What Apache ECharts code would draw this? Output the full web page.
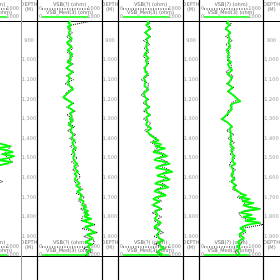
<!DOCTYPE html>
<html><head><meta charset="utf-8">
<script src="https://cdn.jsdelivr.net/npm/echarts@6/dist/echarts.min.js"></script>
<style>html,body{margin:0;padding:0;background:#fff}#c{width:280px;height:280px}</style>
</head><body><div id="c"></div>
<script>
// ---- data ----
const depths = [800,810,820,830,840,850,860,870,880,890,900,910,920,930,940,950,960,970,980,990,
1000,1010,1020,1030,1040,1050,1060,1070,1080,1090,1100,1110,1120,1130,1140,1150,1160,1170,1180,1190,
1200,1210,1220,1230,1240,1250,1260,1270,1280,1290,1300,1310,1320,1330,1340,1350,1360,1370,1380,1390,
1400,1410,1420,1430,1440,1450,1460,1470,1480,1490,1500,1510,1520,1530,1540,1550,1560,1570,1580,1590,
1600,1610,1620,1630,1640,1650,1660,1670,1680,1690,1700,1710,1720,1730,1740,1750,1760,1770,1780,1790,
1800,1810,1820,1830,1840,1850,1860,1870,1880,1890,1900,1910,1920,1930,1940,1950,1960,1970,1980,1990,2000];
const rawDepths = [800,820,840,860,880,900,920,940,960,980,1000,1020,1040,1060,1080,1100,1120,1140,1160,1180,
1200,1220,1240,1260,1280,1300,1320,1340,1360,1380,1400,1420,1440,1460,1480,1500,1520,1540,1560,1580,
1600,1620,1640,1660,1680,1700,1720,1740,1760,1780,1800,1820,1840,1860,1880,1900,1920,1940,1960,1980,2000];

const t0Med = [500,520,490,510,530,500,480,505,520,495,510,490,500,525,505,480,500,515,490,505,
510,495,520,500,485,505,530,510,490,500,520,505,480,500,515,535,510,490,505,520,
500,485,510,530,505,490,515,540,520,500,525,545,520,505,530,550,525,510,540,560,
540,570,600,720,840,610,780,880,700,900,800,640,860,770,610,570,550,590,540,570,
560,580,545,600,570,550,585,560,540,575,590,560,545,570,600,580,560,590,610,580,
600,590,570,610,620,590,580,600,630,610,590,600,620,600,580,610,630,600,590,610,600];
const t1Med = [520,480,530,470,515,545,490,465,505,540,500,460,495,535,515,470,500,545,510,480,
520,465,530,500,455,495,550,520,470,510,540,475,450,500,530,560,500,470,440,400,
460,505,545,510,475,530,565,510,480,540,500,555,525,480,545,570,515,495,555,580,
535,585,540,510,570,605,545,520,580,610,555,530,590,625,570,545,600,635,575,610,
640,580,625,660,600,640,680,615,655,695,705,650,720,745,690,760,710,790,720,800,
730,840,700,800,870,740,720,840,900,770,760,860,800,740,850,780,760,830,770,750,780];
const t2Med = [445,485,430,460,500,455,420,450,490,440,410,455,480,430,415,460,445,405,440,475,
425,400,450,470,415,385,420,460,430,395,380,425,455,405,435,470,430,395,370,420,
455,420,400,445,480,425,405,450,490,435,410,455,480,430,475,515,450,425,485,525,
570,630,530,670,570,730,610,540,690,760,610,560,730,800,630,580,750,840,680,600,
720,800,630,570,710,780,610,560,670,740,590,540,640,580,540,620,660,570,545,610,
640,565,610,665,600,555,615,650,680,600,575,635,690,620,590,660,710,640,605,680,630];
const t3Med = [470,430,480,450,415,455,490,455,430,480,505,460,440,490,465,425,470,500,450,480,
465,505,450,430,480,520,485,440,470,510,530,480,445,485,525,490,455,500,540,560,
600,650,545,490,465,515,485,455,440,400,360,410,455,480,515,475,450,500,530,490,
470,510,540,485,515,550,500,475,525,560,520,490,535,570,505,480,530,560,535,500,
530,560,505,535,575,530,570,600,650,740,630,800,670,860,690,780,940,710,650,830,
690,890,720,960,770,690,640,730,670,625,670,705,640,605,650,590,640,600,575,630,595];

const t0Raw = [490,500,545,470,530,520,480,520,465,510,500,535,470,545,475,530,470,515,480,525,
475,525,490,530,505,545,505,550,510,575,550,600,850,780,740,800,870,600,575,560,
590,720,560,560,600,580,560,610,575,620,575,625,600,570,625,585,640,565,620,595,610];
const t1Raw = [840,540,470,545,455,540,470,555,465,550,470,560,440,570,455,560,430,555,470,420,
430,565,455,590,460,560,480,580,470,600,500,600,510,600,525,620,530,640,545,650,
660,570,650,700,600,730,640,760,670,780,700,680,900,690,930,720,880,870,720,830,740];
const t2Raw = [430,470,510,405,500,390,490,400,475,385,460,470,390,450,465,360,470,460,400,355,
475,385,495,390,505,390,500,470,410,510,600,500,640,560,720,620,770,640,790,680,
760,640,740,580,700,600,670,520,680,525,670,560,650,560,700,550,710,565,730,585,670];
const t3Raw = [495,500,400,505,415,520,420,495,430,490,440,500,505,420,530,510,430,545,440,555,
620,500,520,450,460,340,450,525,430,545,450,555,480,540,485,560,495,475,575,495,
565,480,595,525,665,600,730,700,960,620,660,790,1000,650,730,625,695,635,630,555,630];

const depthTicksMin = 800, depthTicksMax = 2000, depthStep = 100;
const scaleMin = 0, scaleMax = 1000;
const curveName1 = 'VSB(?) (ohm)';
const curveName2 = 'VSB_Med(3) (ohm)';
const depthTitle = 'DEPTH';
const depthUnit = '(M)';

// ---- layout ----
const TOP = 21, BOT = 256;
// track 0 is cut by the left edge: only its right part (values 677..1000) is visible
const dataTracks = [{l:0,w:21,hl:-44,hw:65,min:677,max:scaleMax},{l:37,w:65},{l:118,w:65},{l:199,w:64}];
const depthTracks = [{l:21,w:16},{l:102,w:16},{l:183,w:16},{l:263,w:17}];
const meds = [t0Med,t1Med,t2Med,t3Med];
const raws = [t0Raw,t1Raw,t2Raw,t3Raw];

const grids=[],xAxes=[],yAxes=[],series=[];
dataTracks.forEach((t,i)=>{
  grids.push({left:t.l,top:TOP,width:t.w,height:BOT-TOP,show:false});
  xAxes.push({gridIndex:i,type:'value',min:t.min!=null?t.min:scaleMin,max:t.max!=null?t.max:scaleMax,show:false});
  yAxes.push({gridIndex:i,type:'value',inverse:true,min:depthTicksMin,max:depthTicksMax,show:false});
  series.push({type:'line',xAxisIndex:i,yAxisIndex:i,symbol:'none',silent:true,animation:false,clip:true,
    data:rawDepths.map((d,k)=>[raws[i][k],d]),lineStyle:{color:'#000',width:1,type:'dotted'},z:2});
  series.push({type:'line',xAxisIndex:i,yAxisIndex:i,symbol:'none',silent:true,animation:false,clip:true,
    data:depths.map((d,k)=>[meds[i][k],d]),lineStyle:{color:'#00ff00',width:1.8},z:3});
});
depthTracks.forEach((t,j)=>{
  const gi = dataTracks.length + j;
  grids.push({left:t.l,top:TOP,width:t.w,height:BOT-TOP,show:false});
  xAxes.push({gridIndex:gi,type:'value',show:false,min:0,max:1});
  yAxes.push({gridIndex:gi,type:'value',inverse:true,min:depthTicksMin,max:depthTicksMax,interval:depthStep,
    axisLine:{show:false},axisTick:{show:false},splitLine:{show:false},
    axisLabel:{inside:true,margin:t.w/2,align:'center',fontSize:5,color:'#999',fontFamily:'DejaVu Sans',
      showMinLabel:false,showMaxLabel:false}});
});

const g=[];
const F='DejaVu Sans';
function txt(x,y,s,align,color){g.push({type:'text',x:x,y:y,style:{text:s,fontSize:5,fontFamily:F,fill:color||'#666',textAlign:align||'center',textVerticalAlign:'middle'},silent:true});}
function line(x1,y1,x2,y2,stroke,w,dash){g.push({type:'line',shape:{x1:x1,y1:y1,x2:x2,y2:y2},style:{stroke:stroke,lineWidth:w||1,lineDash:dash||null},silent:true});}
[0,1].forEach(k=>{
  const o = k===0?0:BOT-TOP+3;
  dataTracks.forEach(t=>{
    const L = t.hl!=null?t.hl:t.l, W = t.hw!=null?t.hw:t.w;
    const cx=L+W/2;
    txt(cx,5+o,curveName1);
    txt(L+2,9+o,String(scaleMin),'left','#888');
    line(L+5,9+o,L+W-14,9+o,'#000',1,[1,1.5]);
    txt(L+W-2,9+o,String(scaleMax),'right','#888');
    txt(cx,13+o,curveName2);
    txt(L+2,17+o,String(scaleMin),'left','#888');
    line(L+5,17+o,L+W-14,17+o,'#00ff00',1.5);
    txt(L+W-2,17+o,String(scaleMax),'right','#888');
  });
  depthTracks.forEach(t=>{
    txt(t.l+t.w/2,5+o,depthTitle,'center','#777');
    txt(t.l+t.w/2,10+o,depthUnit,'center','#777');
  });
});
line(0,TOP+0.5,280,TOP+0.5,'#000',1);
line(0,BOT+0.5,280,BOT+0.5,'#000',1);
[21].forEach(x=>line(x+0.5,0,x+0.5,280,'#999',1));
[37,102,118,183,199,263].forEach(x=>line(x+0.5,0,x+0.5,280,'#000',1.2));

const chart = echarts.init(document.getElementById('c'),null,{renderer:'canvas'});
chart.setOption({animation:false,grid:grids,xAxis:xAxes,yAxis:yAxes,series:series,graphic:{elements:g}});
</script></body></html>
